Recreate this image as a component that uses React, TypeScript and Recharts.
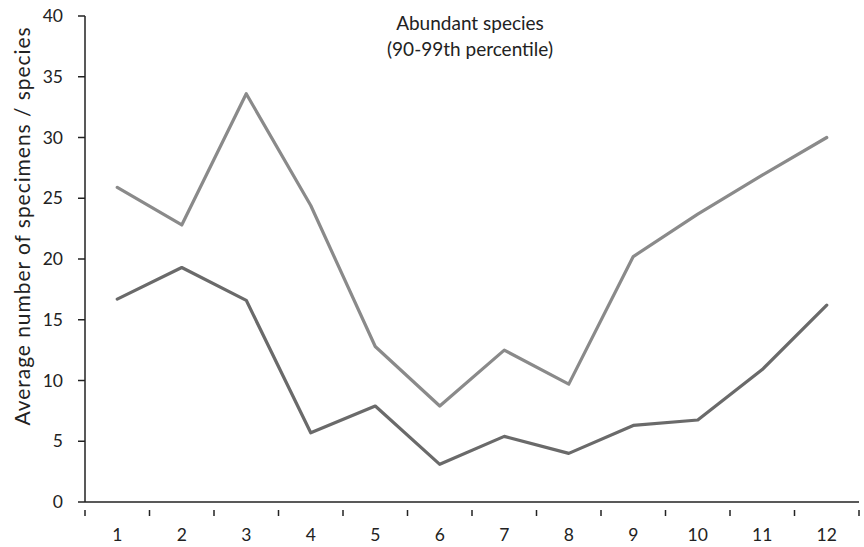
import { LineChart, Line, XAxis, YAxis } from "recharts"

const months = ["1", "2", "3", "4", "5", "6", "7", "8", "9", "10", "11", "12"]
const upperSeries = [25.9, 22.8, 33.6, 24.4, 12.8, 7.9, 12.5, 9.7, 20.2, 23.7, 26.9, 30.0]
const lowerSeries = [16.7, 19.3, 16.6, 5.7, 7.9, 3.1, 5.4, 4.0, 6.3, 6.75, 10.9, 16.2]
const yTicks = [0, 5, 10, 15, 20, 25, 30, 35, 40]

const titleLines = ["Abundant species", "(90-99th percentile)"]
const yLabel = "Average number of specimens / species"

const data = months.map((m, i) => ({ month: m, upper: upperSeries[i], lower: lowerSeries[i] }))

const W = 864
const H = 547
const margin = { top: 16, right: 5, bottom: 0, left: 0 }
const yAxisWidth = 85
const xAxisHeight = 45
const font = "Lato, 'Open Sans', sans-serif"
const band = (W - margin.left - margin.right - yAxisWidth) / months.length

// category ticks sit on the boundaries, labels in the middle
const XTick = (props: any) => {
  const { x, y, payload, index } = props
  return (
    <g>
      {index === 0 && (
        <line x1={x - band / 2} x2={x - band / 2} y1={y} y2={y + 6} stroke="#222" strokeWidth={1.5} />
      )}
      <line x1={x + band / 2} x2={x + band / 2} y1={y} y2={y + 6} stroke="#222" strokeWidth={1.5} />
      <text x={x} y={y + 31} textAnchor="middle" fontSize={17.5} fill="#222" fontFamily={font}>
        {payload.value}
      </text>
    </g>
  )
}

export default function App() {
  return (
    <div style={{ position: "absolute", left: 0, top: 0, width: W, height: H, background: "#fff" }}>
      <LineChart width={W} height={H} data={data} margin={margin}>
        <XAxis
          dataKey="month"
          height={xAxisHeight}
          padding={{ left: band / 2, right: band / 2 }}
          axisLine={{ stroke: "#222", strokeWidth: 1.5 }}
          tickLine={false}
          interval={0}
          tick={<XTick />}
        />
        <YAxis
          width={yAxisWidth}
          domain={[0, 40]}
          ticks={yTicks}
          interval={0}
          axisLine={{ stroke: "#222", strokeWidth: 1.5 }}
          tickLine={{ stroke: "#222", strokeWidth: 1.5 }}
          tickSize={7}
          tickMargin={15}
          tick={{ fontSize: 17.5, fill: "#222", fontFamily: font }}
          label={{
            content: () => (
              <text
                x={21}
                y={226}
                transform="rotate(-90 21 226)"
                textAnchor="middle"
                dominantBaseline="central"
                fontSize={21}
                letterSpacing={0.95}
                fill="#222"
                fontFamily={font}
              >
                {yLabel}
              </text>
            ),
          }}
        />
        <Line
          dataKey="upper"
          stroke="#8a8a8a"
          strokeWidth={3.2}
          strokeLinecap="round"
          strokeLinejoin="round"
          dot={false}
          isAnimationActive={false}
        />
        <Line
          dataKey="lower"
          stroke="#6a6a6a"
          strokeWidth={3.2}
          strokeLinecap="round"
          strokeLinejoin="round"
          dot={false}
          isAnimationActive={false}
        />
      </LineChart>
      <div
        style={{
          position: "absolute",
          left: 370,
          width: 200,
          top: 10,
          textAlign: "center",
          fontFamily: font,
          fontSize: 19,
          lineHeight: "26px",
          color: "#222",
        }}
      >
        {titleLines.map((t) => (
          <div key={t}>{t}</div>
        ))}
      </div>
    </div>
  )
}
